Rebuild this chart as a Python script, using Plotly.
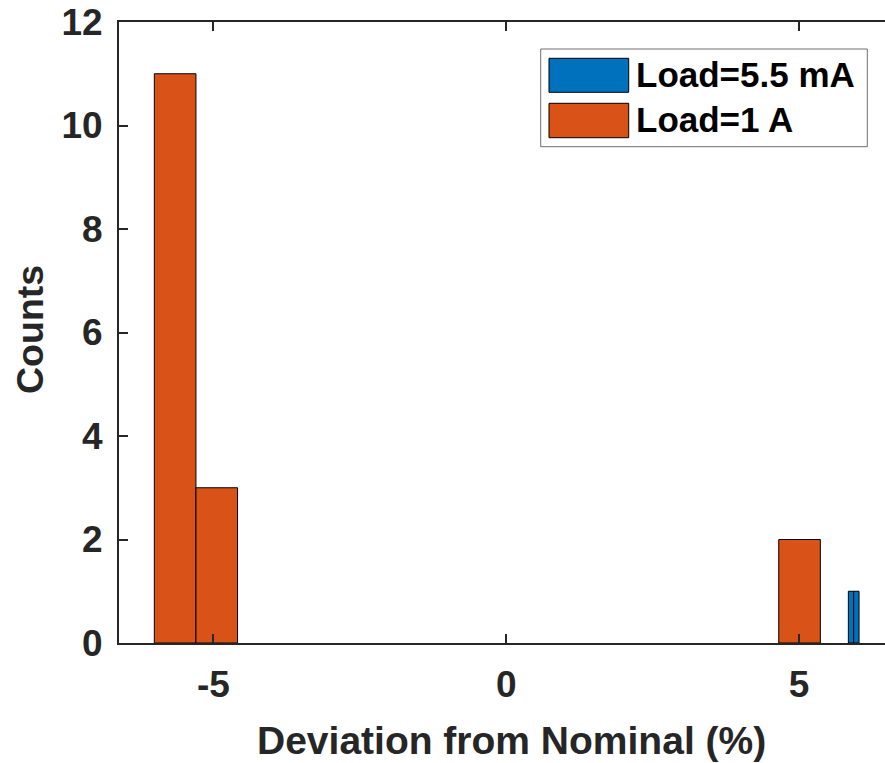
import plotly.graph_objects as go

# Data (histogram bins)
orange_centers = [-5.6525, -4.942, 5.008]
orange_counts = [11, 3, 2]
orange_width = 0.7105

blue_centers = [5.887, 5.978]
blue_counts = [1, 1]
blue_width = 0.0915

x_ticks = [-5, 0, 5]
x_tick_text = ["-5", "0", "5"]
y_ticks = [0, 2, 4, 6, 8, 10, 12]
legend_labels = ["Load=5.5 mA", "Load=1 A"]

BLUE = "#0072BD"
ORANGE = "#D95319"
AX = "#262626"
FONT = "Liberation Sans, Arial, sans-serif"
FS = 37

W, H = 885, 763
L, R, T, B = 119, 0, 22, 120
PW, PH = W - L - R, H - T - B

def px(x):
    return (x - L) / PW

def py(y):
    return (H - B - y) / PH

fig = go.Figure()
fig.add_trace(go.Bar(x=orange_centers, y=orange_counts, width=orange_width,
                     marker=dict(color=ORANGE, line=dict(color="black", width=1)),
                     name=legend_labels[1], showlegend=False))
fig.add_trace(go.Bar(x=blue_centers, y=blue_counts, width=blue_width,
                     marker=dict(color=BLUE, line=dict(color="black", width=1)),
                     name=legend_labels[0], showlegend=False))

fig.update_layout(
    width=W, height=H,
    margin=dict(l=L, r=R, t=T, b=B, pad=0),
    plot_bgcolor="white", paper_bgcolor="white",
    barmode="overlay",
    font=dict(family=FONT, size=FS, color=AX, weight="bold"),
)
fig.update_xaxes(range=[-6.611, 6.467], tickvals=x_ticks, ticktext=x_tick_text,
                 ticks="inside", ticklen=9,
                 tickwidth=2, tickcolor=AX, showline=True, linecolor=AX, linewidth=2,
                 mirror="ticks", showgrid=False, zeroline=False,
                 tickfont=dict(family=FONT, size=FS, color=AX, weight="bold"),
                 ticklabelstandoff=8)
fig.update_yaxes(range=[0, 12], tickvals=y_ticks, ticks="inside", ticklen=9,
                 tickwidth=2, tickcolor=AX, showline=True, linecolor=AX, linewidth=2,
                 mirror=False, showgrid=False, zeroline=False,
                 tickfont=dict(family=FONT, size=FS, color=AX, weight="bold"),
                 ticklabelstandoff=7)

shapes = []
annotations = []
LF = 35
# Axis titles
annotations.append(dict(text="Deviation from Nominal (%)", xref="paper", yref="paper",
                        x=px(512), y=py(740), xanchor="center", yanchor="middle",
                        showarrow=False, font=dict(family=FONT, size=39, color=AX, weight="bold")))
annotations.append(dict(text="Counts", xref="paper", yref="paper", textangle=-90,
                        x=px(30), y=py(330), xanchor="center", yanchor="middle",
                        showarrow=False, font=dict(family=FONT, size=37.5, color=AX, weight="bold")))
# Legend box
shapes.append(dict(type="rect", xref="paper", yref="paper", x0=px(540.7), x1=px(867.3),
                   y0=py(146.7), y1=py(49), line=dict(color="#6e6e6e", width=1),
                   fillcolor="white", layer="above"))
for (y0, y1, col, lab, ty) in [(58.3, 92.3, BLUE, legend_labels[0], 74),
                                (103.3, 137.7, ORANGE, legend_labels[1], 119)]:
    shapes.append(dict(type="rect", xref="paper", yref="paper", x0=px(549), x1=px(628.7),
                       y0=py(y1), y1=py(y0), line=dict(color="black", width=1),
                       fillcolor=col, layer="above"))
    annotations.append(dict(text=lab, xref="paper", yref="paper", x=px(634), y=py(ty),
                            xanchor="left", yanchor="middle", showarrow=False,
                            font=dict(family=FONT, size=LF, color="black", weight="bold")))
fig.update_layout(shapes=shapes, annotations=annotations)

fig.write_html("out.html", config={"displayModeBar": False},
               post_script="document.body.style.margin='0';")
